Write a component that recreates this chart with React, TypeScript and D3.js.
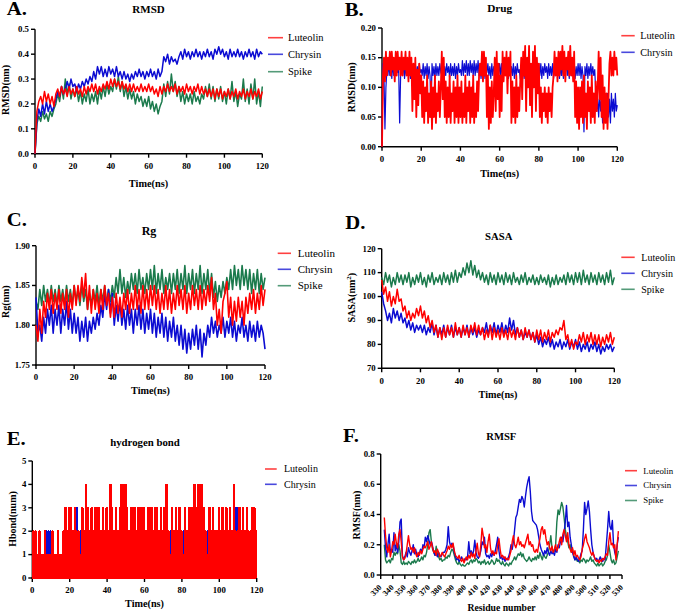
import React from 'react';
import * as d3 from 'd3';

const FONT = "'Liberation Serif','Times New Roman',Times,serif";
const RED = '#ff0000';
const BLUE = '#0c0cd2';
const GREEN = '#1b7a4c';

// ---------- tick values ----------
const timeTicks = [0, 20, 40, 60, 80, 100, 120];
const rmsdTicks = [0, 0.1, 0.2, 0.3, 0.4, 0.5];
const drugTicks = [0, 0.05, 0.1, 0.15, 0.2];
const rgTicks = [1.75, 1.8, 1.85, 1.9];
const sasaTicks = [70, 80, 90, 100, 110, 120];
const hbondTicks = [0, 1, 2, 3, 4, 5];
const rmsfTicks = [0, 0.2, 0.4, 0.6, 0.8];
const residueTicks = [330, 340, 350, 360, 370, 380, 390, 400, 410, 420, 430, 440, 450, 460, 470, 480, 490, 500, 510, 520, 530];

// ---------- A. RMSD (t = 0..120 ns, 1 ns) ----------
const rmsdLuteolin = [0,
  .17, .21, .23, .20, .25, .21, .24, .20, .23, .19,
  .24, .26, .23, .27, .24, .26, .23, .27, .24, .26,
  .23, .27, .24, .26, .23, .27, .24, .27, .25, .28,
  .25, .28, .24, .27, .25, .28, .26, .29, .26, .30,
  .27, .30, .27, .29, .26, .29, .26, .28, .25, .28,
  .25, .28, .25, .27, .25, .28, .25, .27, .25, .28,
  .25, .27, .24, .26, .23, .27, .24, .27, .25, .28,
  .25, .27, .25, .28, .24, .27, .25, .27, .24, .28,
  .25, .27, .24, .27, .25, .28, .24, .27, .24, .26,
  .23, .26, .23, .26, .22, .26, .23, .26, .22, .25,
  .23, .26, .22, .25, .23, .26, .22, .25, .23, .26,
  .22, .25, .23, .26, .22, .25, .23, .26, .22, .25];
const rmsdChrysin = [0,
  .13, .18, .15, .20, .16, .21, .17, .20, .17, .19,
  .22, .25, .23, .27, .24, .26, .29, .26, .30, .27,
  .28, .25, .28, .26, .29, .27, .30, .28, .31, .29,
  .33, .30, .35, .32, .35, .31, .34, .31, .35, .32,
  .34, .31, .35, .31, .33, .30, .33, .30, .32, .29,
  .32, .30, .33, .31, .34, .31, .33, .30, .33, .31,
  .34, .31, .33, .30, .34, .31, .33, .39, .37, .40,
  .36, .39, .37, .38, .36, .39, .41, .38, .42, .39,
  .41, .38, .41, .39, .42, .39, .41, .38, .41, .39,
  .42, .39, .41, .38, .42, .40, .43, .40, .42, .39,
  .41, .38, .42, .39, .41, .39, .42, .39, .41, .38,
  .41, .39, .42, .39, .41, .38, .42, .39, .41, .40];
const rmsdSpike = [0,
  .12, .15, .13, .17, .14, .16, .13, .17, .15, .18,
  .20, .24, .21, .27, .22, .30, .24, .28, .22, .26,
  .23, .26, .21, .25, .20, .24, .21, .26, .20, .24,
  .21, .25, .20, .26, .22, .27, .23, .28, .24, .27,
  .25, .30, .26, .31, .25, .29, .23, .27, .22, .26,
  .22, .25, .20, .24, .21, .23, .19, .22, .19, .23,
  .18, .21, .17, .20, .16, .19, .21, .28, .23, .29,
  .24, .32, .25, .29, .23, .27, .21, .25, .20, .24,
  .21, .24, .20, .25, .21, .23, .20, .24, .22, .27,
  .23, .28, .22, .27, .21, .26, .22, .27, .21, .25,
  .20, .26, .22, .29, .21, .25, .19, .24, .22, .30,
  .21, .26, .20, .28, .22, .30, .20, .25, .19, .27];

// ---------- B. Drug RMSD (t = 0..120 ns, 0.5 ns) ----------
const drugLuteolin = [0,
  .12, .15, .11, .16, .12, .15, .13, .16, .12, .16, .13, .15, .11, .16, .12, .16, .13, .15, .12, .16,
  .12, .15, .13, .16, .12, .15, .11, .16, .12, .15, .06, .14, .08, .15, .05, .13, .07, .14, .09, .12,
  .05, .11, .04, .10, .06, .12, .04, .09, .05, .11, .03, .10, .05, .12, .04, .09, .06, .11, .05, .10,
  .16, .08, .15, .05, .11, .04, .10, .05, .12, .04, .09, .06, .11, .04, .10, .05, .12, .04, .10, .05,
  .11, .04, .09, .05, .12, .04, .10, .06, .11, .04, .10, .05, .12, .04, .09, .05, .11, .06, .12, .14,
  .12, .16, .11, .16, .12, .15, .05, .12, .03, .10, .04, .11, .05, .09, .15, .06, .16, .08, .14, .05,
  .12, .06, .16, .11, .15, .12, .16, .09, .15, .12, .16, .04, .11, .05, .10, .04, .12, .05, .10, .06,
  .11, .15, .08, .16, .12, .17, .06, .15, .10, .17, .07, .14, .05, .16, .10, .17, .06, .15, .09, .14,
  .05, .10, .04, .09, .06, .10, .05, .09, .04, .10, .06, .09, .05, .10, .12, .16, .12, .15, .11, .16,
  .12, .16, .13, .17, .12, .16, .11, .15, .13, .16, .12, .17, .12, .15, .11, .16, .05, .11, .04, .10,
  .03, .10, .05, .11, .04, .12, .05, .09, .03, .11, .06, .10, .04, .12, .05, .09, .04, .11, .06, .10,
  .16, .08, .15, .05, .12, .03, .10, .04, .09, .03, .08, .14, .16, .12, .15, .12, .16, .13, .15, .12];
const drugChrysin = [0,
  .14, .12, .03, .10, .13, .12, .14, .12, .13, .115, .14, .12, .135, .12, .14, .125, .13, .04, .12, .135,
  .12, .14, .115, .135, .12, .14, .125, .135, .115, .14, .12, .135, .12, .14, .115, .135, .12, .14, .125, .13,
  .12, .14, .115, .135, .12, .14, .115, .135, .12, .05, .14, .12, .135, .115, .14, .12, .135, .12, .14, .125,
  .12, .14, .115, .135, .12, .14, .125, .135, .115, .14, .12, .135, .12, .14, .115, .135, .12, .14, .125, .13,
  .12, .145, .12, .14, .125, .145, .12, .14, .12, .145, .125, .14, .12, .145, .12, .14, .125, .145, .12, .14,
  .115, .135, .12, .14, .115, .135, .125, .14, .12, .135, .115, .14, .12, .135, .125, .14, .115, .135, .12, .14,
  .12, .14, .115, .135, .12, .14, .125, .135, .115, .14, .12, .135, .12, .14, .115, .135, .12, .14, .125, .13,
  .115, .135, .12, .14, .115, .135, .125, .14, .12, .135, .115, .14, .12, .135, .125, .14, .115, .135, .12, .14,
  .12, .14, .115, .135, .12, .14, .125, .135, .115, .14, .12, .135, .12, .14, .115, .135, .12, .14, .125, .13,
  .115, .135, .12, .14, .115, .135, .125, .14, .12, .135, .115, .14, .12, .135, .125, .14, .115, .135, .12, .14,
  .12, .14, .115, .135, .12, .025, .135, .12, .14, .115, .135, .12, .14, .12, .135, .12, .13, .09, .06, .08,
  .05, .09, .06, .08, .04, .09, .05, .08, .06, .09, .05, .08, .04, .09, .06, .08, .05, .09, .06, .07];

// ---------- C. Rg (t = 0..120 ns, 1 ns) ----------
const rgLuteolin = [1.80,
  1.78, 1.82, 1.79, 1.83, 1.81, 1.84, 1.82, 1.845, 1.815, 1.84,
  1.82, 1.845, 1.815, 1.84, 1.82, 1.845, 1.81, 1.84, 1.82, 1.85,
  1.825, 1.85, 1.83, 1.86, 1.835, 1.865, 1.82, 1.85, 1.815, 1.845,
  1.82, 1.84, 1.815, 1.845, 1.82, 1.85, 1.825, 1.84, 1.81, 1.835,
  1.81, 1.84, 1.815, 1.835, 1.81, 1.84, 1.82, 1.845, 1.815, 1.84,
  1.82, 1.85, 1.82, 1.845, 1.815, 1.85, 1.82, 1.845, 1.82, 1.85,
  1.825, 1.85, 1.82, 1.845, 1.815, 1.84, 1.82, 1.85, 1.82, 1.845,
  1.815, 1.84, 1.82, 1.85, 1.825, 1.845, 1.82, 1.85, 1.815, 1.84,
  1.82, 1.85, 1.825, 1.845, 1.82, 1.85, 1.82, 1.845, 1.825, 1.85,
  1.83, 1.86, 1.82, 1.84, 1.80, 1.82, 1.79, 1.83, 1.84, 1.855,
  1.81, 1.835, 1.80, 1.83, 1.805, 1.835, 1.81, 1.83, 1.80, 1.835,
  1.815, 1.84, 1.82, 1.845, 1.815, 1.84, 1.82, 1.85, 1.825, 1.845];
const rgChrysin = [1.835,
  1.79, 1.80, 1.78, 1.81, 1.79, 1.82, 1.80, 1.825, 1.79, 1.82,
  1.80, 1.825, 1.79, 1.82, 1.80, 1.83, 1.795, 1.82, 1.79, 1.815,
  1.79, 1.81, 1.78, 1.805, 1.785, 1.81, 1.78, 1.805, 1.79, 1.81,
  1.795, 1.815, 1.80, 1.825, 1.81, 1.84, 1.82, 1.845, 1.815, 1.84,
  1.80, 1.825, 1.805, 1.83, 1.80, 1.82, 1.795, 1.825, 1.80, 1.82,
  1.79, 1.82, 1.80, 1.825, 1.795, 1.82, 1.79, 1.815, 1.795, 1.82,
  1.79, 1.815, 1.785, 1.81, 1.79, 1.815, 1.785, 1.81, 1.78, 1.805,
  1.785, 1.81, 1.78, 1.80, 1.775, 1.80, 1.77, 1.795, 1.765, 1.79,
  1.77, 1.795, 1.775, 1.80, 1.77, 1.795, 1.76, 1.79, 1.775, 1.80,
  1.785, 1.81, 1.79, 1.805, 1.785, 1.80, 1.79, 1.81, 1.785, 1.805,
  1.79, 1.81, 1.785, 1.805, 1.78, 1.80, 1.79, 1.81, 1.785, 1.80,
  1.78, 1.805, 1.785, 1.80, 1.78, 1.805, 1.785, 1.80, 1.79, 1.77];
const rgSpike = [1.83,
  1.82, 1.845, 1.825, 1.85, 1.83, 1.845, 1.825, 1.85, 1.83, 1.845,
  1.825, 1.85, 1.83, 1.845, 1.825, 1.85, 1.83, 1.845, 1.825, 1.85,
  1.83, 1.845, 1.825, 1.85, 1.83, 1.845, 1.82, 1.84, 1.825, 1.845,
  1.83, 1.85, 1.825, 1.845, 1.83, 1.85, 1.825, 1.845, 1.83, 1.85,
  1.835, 1.86, 1.84, 1.87, 1.84, 1.86, 1.835, 1.855, 1.84, 1.865,
  1.845, 1.865, 1.84, 1.87, 1.845, 1.86, 1.84, 1.865, 1.845, 1.87,
  1.845, 1.875, 1.84, 1.865, 1.845, 1.87, 1.84, 1.86, 1.845, 1.865,
  1.84, 1.865, 1.845, 1.87, 1.84, 1.865, 1.845, 1.875, 1.84, 1.865,
  1.845, 1.87, 1.84, 1.865, 1.845, 1.875, 1.84, 1.865, 1.845, 1.87,
  1.84, 1.865, 1.835, 1.855, 1.83, 1.85, 1.835, 1.855, 1.84, 1.86,
  1.845, 1.87, 1.845, 1.875, 1.85, 1.87, 1.845, 1.875, 1.85, 1.87,
  1.845, 1.87, 1.84, 1.865, 1.845, 1.87, 1.84, 1.865, 1.845, 1.86];

// ---------- D. SASA (t = 0..120 ns, 1 ns) ----------
const sasaLuteolin = [107,
  101, 104, 98, 102, 96, 100, 97, 103, 98, 99,
  94, 96, 91, 94, 90, 93, 91, 95, 92, 96,
  91, 94, 89, 92, 87, 90, 85, 88, 83, 87,
  82, 87, 83, 88, 84, 87, 83, 89, 84, 87,
  83, 88, 84, 87, 83, 88, 85, 89, 84, 88,
  84, 87, 82, 86, 83, 88, 82, 87, 83, 86,
  82, 87, 83, 86, 82, 87, 83, 86, 82, 87,
  83, 86, 82, 87, 83, 86, 82, 85, 81, 86,
  82, 86, 81, 85, 82, 86, 81, 85, 83, 86,
  84, 87, 86, 90, 82, 84, 79, 82, 78, 81,
  80, 84, 81, 85, 80, 84, 81, 85, 80, 84,
  80, 84, 79, 83, 80, 84, 81, 85, 80, 83];
const sasaChrysin = [102,
  97, 94, 90, 93, 89, 95, 91, 94, 90, 93,
  89, 91, 87, 90, 86, 89, 85, 88, 86, 88,
  85, 88, 84, 87, 85, 89, 84, 88, 83, 87,
  84, 88, 83, 87, 84, 88, 83, 87, 84, 87,
  83, 87, 84, 88, 83, 87, 84, 87, 83, 86,
  84, 87, 85, 89, 84, 88, 85, 89, 84, 88,
  85, 89, 84, 88, 85, 91, 86, 90, 84, 87,
  83, 86, 82, 85, 83, 86, 82, 85, 81, 84,
  80, 83, 79, 82, 80, 83, 79, 82, 78, 81,
  79, 82, 78, 81, 79, 82, 78, 81, 79, 82,
  78, 81, 77, 80, 78, 81, 77, 80, 78, 81,
  77, 80, 76, 79, 77, 80, 78, 80, 77, 79];
const sasaSpike = [108,
  105, 110, 106, 109, 104, 108, 105, 110, 106, 109,
  105, 109, 106, 110, 104, 108, 105, 109, 106, 110,
  105, 108, 104, 109, 106, 110, 105, 108, 106, 109,
  105, 110, 106, 109, 105, 110, 106, 111, 106, 110,
  108, 112, 109, 114, 110, 115, 109, 113, 108, 111,
  107, 110, 106, 109, 105, 110, 106, 109, 105, 110,
  106, 109, 105, 110, 106, 109, 105, 110, 106, 108,
  105, 109, 106, 110, 105, 108, 106, 109, 105, 108,
  105, 109, 106, 108, 105, 109, 104, 108, 105, 109,
  105, 108, 106, 109, 105, 110, 106, 109, 105, 110,
  106, 110, 105, 111, 106, 109, 105, 110, 106, 109,
  105, 110, 106, 109, 105, 110, 106, 111, 105, 108];

// ---------- E. Hydrogen bonds (t = 0..120 ns, 0.5 ns) ----------
const hbondLuteolin = [0,
  2, 0, 2, 0, 1, 0, 2, 0, 1, 0, 1, 0, 2, 0, 1, 0, 1, 0, 1, 0,
  2, 0, 1, 0, 1, 0, 2, 0, 1, 0, 1, 0, 2, 0, 3, 0, 2, 0, 3, 0,
  3, 0, 2, 0, 3, 0, 2, 0, 2, 0, 1, 0, 3, 0, 2, 0, 4, 0, 3, 0,
  2, 0, 3, 0, 2, 0, 3, 0, 3, 0, 3, 0, 2, 0, 3, 0, 2, 0, 3, 0,
  2, 0, 4, 0, 3, 0, 2, 0, 3, 0, 2, 0, 3, 0, 4, 0, 4, 0, 4, 0,
  3, 0, 2, 0, 3, 0, 3, 0, 3, 0, 2, 0, 3, 0, 3, 0, 3, 0, 3, 0,
  2, 0, 3, 0, 3, 0, 3, 0, 2, 0, 3, 0, 3, 0, 2, 0, 3, 0, 2, 0,
  3, 0, 4, 0, 2, 0, 1, 0, 3, 0, 2, 0, 3, 0, 2, 0, 3, 0, 2, 0,
  1, 0, 3, 0, 2, 0, 3, 0, 3, 0, 3, 0, 4, 0, 3, 0, 4, 0, 4, 0,
  4, 0, 3, 0, 2, 0, 1, 0, 3, 0, 2, 0, 3, 0, 2, 0, 2, 0, 3, 0,
  2, 0, 3, 0, 2, 0, 3, 0, 2, 0, 3, 0, 2, 0, 4, 0, 2, 0, 2, 0,
  3, 0, 2, 0, 3, 0, 2, 0, 3, 0, 2, 0, 2, 0, 3, 0, 3, 0, 2, 0];
const hbondChrysin = [0,
  1, 0, 1, 0, 1, 0, 1, 0, 1, 0, 1, 0, 1, 0, 2, 0, 2, 0, 2, 0,
  2, 0, 1, 0, 1, 0, 1, 0, 1, 0, 1, 0, 2, 0, 2, 0, 2, 0, 2, 0,
  2, 0, 2, 0, 2, 0, 3, 0, 2, 0, 2, 0, 2, 0, 2, 0, 2, 0, 2, 0,
  2, 0, 2, 0, 2, 0, 2, 0, 2, 0, 2, 0, 2, 0, 2, 0, 2, 0, 2, 0,
  2, 0, 2, 0, 2, 0, 2, 0, 2, 0, 2, 0, 2, 0, 2, 0, 2, 0, 2, 0,
  2, 0, 2, 0, 2, 0, 2, 0, 2, 0, 2, 0, 2, 0, 2, 0, 2, 0, 2, 0,
  2, 0, 2, 0, 2, 0, 2, 0, 2, 0, 2, 0, 2, 0, 2, 0, 2, 0, 2, 0,
  2, 0, 2, 0, 2, 0, 2, 0, 2, 0, 2, 0, 2, 0, 2, 0, 2, 0, 2, 0,
  2, 0, 2, 0, 2, 0, 2, 0, 2, 0, 2, 0, 2, 0, 2, 0, 2, 0, 2, 0,
  2, 0, 2, 0, 2, 0, 2, 0, 2, 0, 2, 0, 2, 0, 2, 0, 2, 0, 2, 0,
  2, 0, 2, 0, 2, 0, 2, 0, 2, 0, 2, 0, 2, 0, 2, 0, 3, 0, 3, 0,
  2, 0, 2, 0, 2, 0, 2, 0, 2, 0, 2, 0, 2, 0, 2, 0, 2, 0, 2, 0];

// ---------- F. RMSF (residues 333..527) ----------
const rmsfLuteolin = [
  .38, .26, .18, .15, .20, .12, .16, .22, .20, .27,
  .21, .18, .27, .30, .22, .12, .10, .11, .14, .20,
  .26, .20, .17, .18, .15, .18, .14, .12, .15, .13,
  .16, .14, .17, .19, .18, .20, .22, .17, .19, .22,
  .18, .15, .16, .13, .17, .15, .12, .13, .15, .13,
  .12, .14, .16, .19, .17, .20, .18, .21, .16, .13,
  .12, .11, .13, .10, .09, .11, .08, .10, .12, .10,
  .13, .11, .15, .12, .14, .11, .16, .21, .14, .12,
  .20, .31, .26, .18, .20, .15, .22, .27, .18, .14,
  .16, .13, .15, .14, .20, .24, .17, .12, .13, .11,
  .12, .10, .11, .10, .13, .16, .22, .26, .20, .18,
  .21, .25, .20, .22, .19, .20, .18, .21, .24, .27,
  .20, .22, .19, .20, .16, .15, .17, .15, .20, .24,
  .30, .32, .27, .30, .24, .20, .22, .18, .16, .19,
  .15, .17, .20, .16, .18, .22, .25, .20, .27, .30,
  .26, .22, .28, .20, .17, .15, .18, .13, .16, .12,
  .13, .11, .10, .12, .17, .20, .24, .27, .22, .20,
  .18, .15, .13, .15, .12, .10, .09, .10, .08, .10,
  .09, .11, .10, .12, .14, .13, .22, .28, .20, .21,
  .18, .20, .10, .20, .29];
const rmsfChrysin = [
  .30, .18, .12, .20, .27, .15, .17, .15, .28, .16,
  .20, .15, .22, .35, .37, .13, .10, .12, .15, .12,
  .18, .15, .13, .16, .20, .14, .17, .13, .12, .14,
  .17, .15, .20, .18, .25, .22, .26, .23, .20, .22,
  .19, .15, .13, .14, .12, .15, .13, .12, .14, .15,
  .15, .17, .20, .32, .22, .19, .21, .20, .15, .12,
  .10, .11, .09, .10, .12, .10, .09, .11, .10, .12,
  .22, .14, .16, .13, .16, .23, .15, .12, .11, .13,
  .16, .22, .20, .25, .14, .12, .13, .11, .14, .12,
  .15, .13, .16, .20, .25, .16, .11, .12, .10, .12,
  .09, .11, .10, .12, .15, .20, .17, .22, .30, .38,
  .40, .45, .50, .48, .52, .50, .45, .52, .58, .62,
  .65, .55, .42, .36, .35, .34, .33, .30, .25, .20,
  .17, .15, .13, .16, .14, .18, .15, .13, .16, .14,
  .15, .13, .17, .15, .20, .18, .22, .25, .22, .28,
  .35, .46, .32, .35, .25, .20, .15, .12, .10, .12,
  .10, .09, .11, .14, .16, .30, .48, .40, .44, .49,
  .42, .30, .20, .15, .12, .10, .11, .09, .10, .12,
  .10, .09, .11, .10, .20, .30, .42, .32, .30, .36,
  .20, .15, .12, .20, .25];
const rmsfSpike = [
  .20, .10, .08, .09, .10, .08, .11, .10, .15, .13,
  .15, .14, .20, .16, .08, .07, .09, .07, .08, .07,
  .09, .08, .07, .09, .08, .10, .08, .09, .11, .09,
  .10, .12, .10, .13, .12, .15, .20, .28, .30, .22,
  .17, .15, .13, .19, .14, .12, .10, .11, .09, .10,
  .10, .12, .11, .13, .12, .15, .17, .16, .13, .10,
  .08, .07, .09, .07, .06, .07, .06, .06, .07, .08,
  .07, .09, .10, .08, .10, .09, .11, .10, .08, .09,
  .07, .09, .08, .10, .07, .08, .09, .07, .08, .10,
  .09, .07, .08, .11, .09, .10, .08, .07, .09, .07,
  .06, .08, .07, .06, .08, .07, .09, .10, .12, .10,
  .12, .14, .13, .15, .12, .14, .11, .10, .09, .10,
  .12, .10, .09, .11, .10, .12, .10, .13, .11, .15,
  .12, .10, .14, .12, .11, .13, .15, .20, .26, .18,
  .15, .16, .20, .35, .43, .40, .44, .48, .45, .38,
  .30, .25, .22, .18, .20, .15, .17, .13, .10, .11,
  .09, .10, .08, .10, .09, .11, .10, .08, .10, .09,
  .10, .12, .09, .10, .08, .07, .06, .08, .06, .07,
  .08, .06, .07, .09, .10, .13, .20, .15, .10, .08,
  .10, .07, .08, .12, .16];

// ---------- components ----------
type TxtProps = { x: number; y: number; size: number; bold?: boolean; anchor?: string; sx?: number; rot?: number; children?: React.ReactNode };
function Txt({ x, y, size, bold = false, anchor = 'start', sx = 1, rot = 0, children }: TxtProps) {
  return (
    <text transform={`translate(${x},${y}) rotate(${rot}) scale(${sx},1)`} fontFamily={FONT} fontSize={size}
      fontWeight={bold ? 700 : 400} textAnchor={anchor as any} fill="#000">{children}</text>
  );
}

type Ser = { name: string; color: string; values: number[]; lw?: number };
type Leg = { x1: number; x2: number; tx: number; ys: number[]; fs: number };
type Cfg = {
  x0: number; x1: number; yT: number; yB: number;
  xDom: [number, number]; yDom: [number, number];
  xTicks: number[]; yTicks: number[]; yFmt: (v: number) => string;
  xStart: number; xStep: number; lw: number; step?: boolean; rotX?: boolean;
  draw: Ser[]; legend: Ser[]; leg: Leg;
};

function Panel({ c }: { c: Cfg }) {
  const xs = d3.scaleLinear().domain(c.xDom).range([c.x0, c.x1]);
  const ys = d3.scaleLinear().domain(c.yDom).range([c.yB, c.yT]);
  const gen = d3.line<number>()
    .x((_, i) => xs(c.xStart + i * c.xStep))
    .y((d) => ys(d))
    .curve(c.step ? d3.curveStepAfter : d3.curveLinear);
  const ax = { stroke: '#000', strokeWidth: 1.4 };
  return (
    <g>
      <line x1={c.x0} x2={c.x0} y1={c.yT} y2={c.yB + 0.7} {...ax} />
      <line x1={c.x0 - 0.7} x2={c.x1} y1={c.yB} y2={c.yB} {...ax} />
      {c.yTicks.map((t) => (
        <g key={'y' + t}>
          <line x1={c.x0 - 4} x2={c.x0} y1={ys(t)} y2={ys(t)} {...ax} />
          <Txt x={c.x0 - 6} y={ys(t) + 2.8} size={8} bold sx={1.1} anchor="end">{c.yFmt(t)}</Txt>
        </g>
      ))}
      {c.xTicks.map((t) => (
        <g key={'x' + t}>
          <line x1={xs(t)} x2={xs(t)} y1={c.yB} y2={c.yB + 4} {...ax} />
          {c.rotX
            ? <Txt x={xs(t) + 1.5} y={c.yB + 13} size={8} bold anchor="end" rot={-45}>{String(t)}</Txt>
            : <Txt x={xs(t)} y={c.yB + 15.3} size={8} bold sx={1.1} anchor="middle">{String(t)}</Txt>}
        </g>
      ))}
      {c.draw.map((s) => (
        <path key={s.name} d={gen(s.values) ?? ''} fill="none" stroke={s.color} strokeWidth={s.lw ?? c.lw}
          strokeLinejoin="round" shapeRendering={c.step ? 'crispEdges' : 'auto'} />
      ))}
      {c.legend.map((s, i) => (
        <g key={'l' + s.name}>
          <line x1={c.leg.x1} x2={c.leg.x2} y1={c.leg.ys[i]} y2={c.leg.ys[i]} stroke={s.color} strokeWidth={1.6} strokeOpacity={0.75} />
          <Txt x={c.leg.tx} y={c.leg.ys[i] + c.leg.fs * 0.33} size={c.leg.fs}>{s.name}</Txt>
        </g>
      ))}
    </g>
  );
}

const f1 = d3.format('.1f');
const f2 = d3.format('.2f');
const f0 = d3.format('d');

export default function App() {
  const A = { lut: { name: 'Luteolin', color: RED, values: rmsdLuteolin }, chr: { name: 'Chrysin', color: BLUE, values: rmsdChrysin }, spk: { name: 'Spike', color: GREEN, values: rmsdSpike } };
  const B = { lut: { name: 'Luteolin', color: RED, values: drugLuteolin, lw: 1.8 }, chr: { name: 'Chrysin', color: BLUE, values: drugChrysin, lw: 1.2 } };
  const C = { lut: { name: 'Luteolin', color: RED, values: rgLuteolin }, chr: { name: 'Chrysin', color: BLUE, values: rgChrysin }, spk: { name: 'Spike', color: GREEN, values: rgSpike } };
  const D = { lut: { name: 'Luteolin', color: RED, values: sasaLuteolin }, chr: { name: 'Chrysin', color: BLUE, values: sasaChrysin }, spk: { name: 'Spike', color: GREEN, values: sasaSpike } };
  const E = { lut: { name: 'Luteolin', color: RED, values: hbondLuteolin }, chr: { name: 'Chrysin', color: BLUE, values: hbondChrysin } };
  const F = { lut: { name: 'Luteolin', color: RED, values: rmsfLuteolin }, chr: { name: 'Chrysin', color: BLUE, values: rmsfChrysin }, spk: { name: 'Spike', color: GREEN, values: rmsfSpike } };

  const cA: Cfg = { x0: 35, x1: 262.3, yT: 29.3, yB: 153.7, xDom: [0, 120], yDom: [0, 0.5], xTicks: timeTicks, yTicks: rmsdTicks, yFmt: f1,
    xStart: 0, xStep: 1, lw: 1.5, draw: [A.spk, A.chr, A.lut], legend: [A.lut, A.chr, A.spk],
    leg: { x1: 268, x2: 283, tx: 288, ys: [37.7, 54.3, 71.7], fs: 10.5 } };
  const cB: Cfg = { x0: 382, x1: 617.3, yT: 28, yB: 146.7, xDom: [0, 120], yDom: [0, 0.2], xTicks: timeTicks, yTicks: drugTicks, yFmt: f2,
    xStart: 0, xStep: 0.5, lw: 1.3, draw: [B.chr, B.lut], legend: [B.lut, B.chr],
    leg: { x1: 621.3, x2: 634.7, tx: 640.3, ys: [35.7, 52.3], fs: 10.2 } };
  const cC: Cfg = { x0: 36, x1: 265, yT: 245.7, yB: 365, xDom: [0, 120], yDom: [1.75, 1.9], xTicks: timeTicks, yTicks: rgTicks, yFmt: f2,
    xStart: 0, xStep: 1, lw: 1.6, draw: [C.spk, C.chr, C.lut], legend: [C.lut, C.chr, C.spk],
    leg: { x1: 277.7, x2: 291, tx: 297.7, ys: [253.3, 269.3, 285.7], fs: 11 } };
  const cD: Cfg = { x0: 381.7, x1: 614.3, yT: 248.7, yB: 368.3, xDom: [0, 120], yDom: [70, 120], xTicks: timeTicks, yTicks: sasaTicks, yFmt: f0,
    xStart: 0, xStep: 1, lw: 1.5, draw: [D.spk, D.chr, D.lut], legend: [D.lut, D.chr, D.spk],
    leg: { x1: 621.3, x2: 634.7, tx: 641.3, ys: [257.3, 273.3, 289.3], fs: 10 } };
  const cE: Cfg = { x0: 32.3, x1: 256.7, yT: 461, yB: 578, xDom: [0, 120], yDom: [0, 5], xTicks: timeTicks, yTicks: hbondTicks, yFmt: f0,
    xStart: 0, xStep: 0.5, lw: 1.5, step: true, draw: [E.chr, E.lut], legend: [E.lut, E.chr],
    leg: { x1: 265, x2: 276.7, tx: 284, ys: [469, 484.3], fs: 10 } };
  const cF: Cfg = { x0: 380.7, x1: 622, yT: 454, yB: 575, xDom: [330, 530], yDom: [0, 0.8], xTicks: residueTicks, yTicks: rmsfTicks, yFmt: f1,
    xStart: 333, xStep: 1, lw: 1.4, rotX: true, draw: [F.spk, F.chr, F.lut], legend: [F.lut, F.chr, F.spk],
    leg: { x1: 625, x2: 637, tx: 643.3, ys: [470.7, 485.5, 500.5], fs: 8.8 } };

  return (
    <svg width={676} height={613} viewBox="0 0 676 613" style={{ position: 'absolute', left: 0, top: 0 }}>
      <rect x={0} y={0} width={676} height={613} fill="#fff" />
      <Panel c={cA} />
      <Panel c={cB} />
      <Panel c={cC} />
      <Panel c={cD} />
      <Panel c={cE} />
      <Panel c={cF} />

      {/* A */}
      <Txt x={6.7} y={15} size={18} bold sx={1.15}>A.</Txt>
      <Txt x={148.5} y={13.3} size={11} bold anchor="middle">RMSD</Txt>
      <Txt x={9} y={90} size={10} bold anchor="middle" rot={-90}>RMSD(nm)</Txt>
      <Txt x={148.5} y={187} size={10.3} bold anchor="middle">Time(ns)</Txt>

      {/* B */}
      <Txt x={344.7} y={15.7} size={18} bold sx={1.15}>B.</Txt>
      <Txt x={499.7} y={12.3} size={11.3} bold anchor="middle">Drug</Txt>
      <Txt x={355.3} y={87.3} size={10} bold anchor="middle" rot={-90}>RMSD(nm)</Txt>
      <Txt x={499.7} y={176.5} size={10.2} bold anchor="middle">Time(ns)</Txt>

      {/* C */}
      <Txt x={6.7} y={225.7} size={18} bold sx={1.15}>C.</Txt>
      <Txt x={149} y={234.5} size={12} bold anchor="middle">Rg</Txt>
      <Txt x={9} y={301.7} size={10} bold anchor="middle" rot={-90}>Rg(nm)</Txt>
      <Txt x={150.5} y={394} size={10.2} bold anchor="middle">Time(ns)</Txt>

      {/* D */}
      <Txt x={345.3} y={229} size={18} bold sx={1.15}>D.</Txt>
      <Txt x={498.7} y={240} size={10.7} bold anchor="middle">SASA</Txt>
      <text transform="translate(354.6,297.7) rotate(-90)" fontFamily={FONT} fontSize={10} fontWeight={700} textAnchor="middle" fill="#000">
        SASA(nm<tspan fontSize={7} dy={-4}>2</tspan><tspan dy={4}>)</tspan>
      </text>
      <Txt x={498} y={398} size={10.2} bold anchor="middle">Time(ns)</Txt>

      {/* E */}
      <Txt x={6.7} y={445} size={18} bold sx={1.15}>E.</Txt>
      <Txt x={145} y={445.5} size={10.8} bold anchor="middle">hydrogen bond</Txt>
      <Txt x={16} y={519} size={10} bold anchor="middle" rot={-90}>Hbond(num)</Txt>
      <Txt x={144.5} y={607} size={10.2} bold anchor="middle">Time(ns)</Txt>

      {/* F */}
      <Txt x={343} y={442.3} size={18} bold sx={1.15}>F.</Txt>
      <Txt x={501.3} y={440} size={10.6} bold anchor="middle">RMSF</Txt>
      <Txt x={359.6} y={515} size={10} bold anchor="middle" rot={-90}>RMSF(nm)</Txt>
      <Txt x={501.5} y={611} size={9.7} bold anchor="middle">Residue number</Txt>
    </svg>
  );
}
